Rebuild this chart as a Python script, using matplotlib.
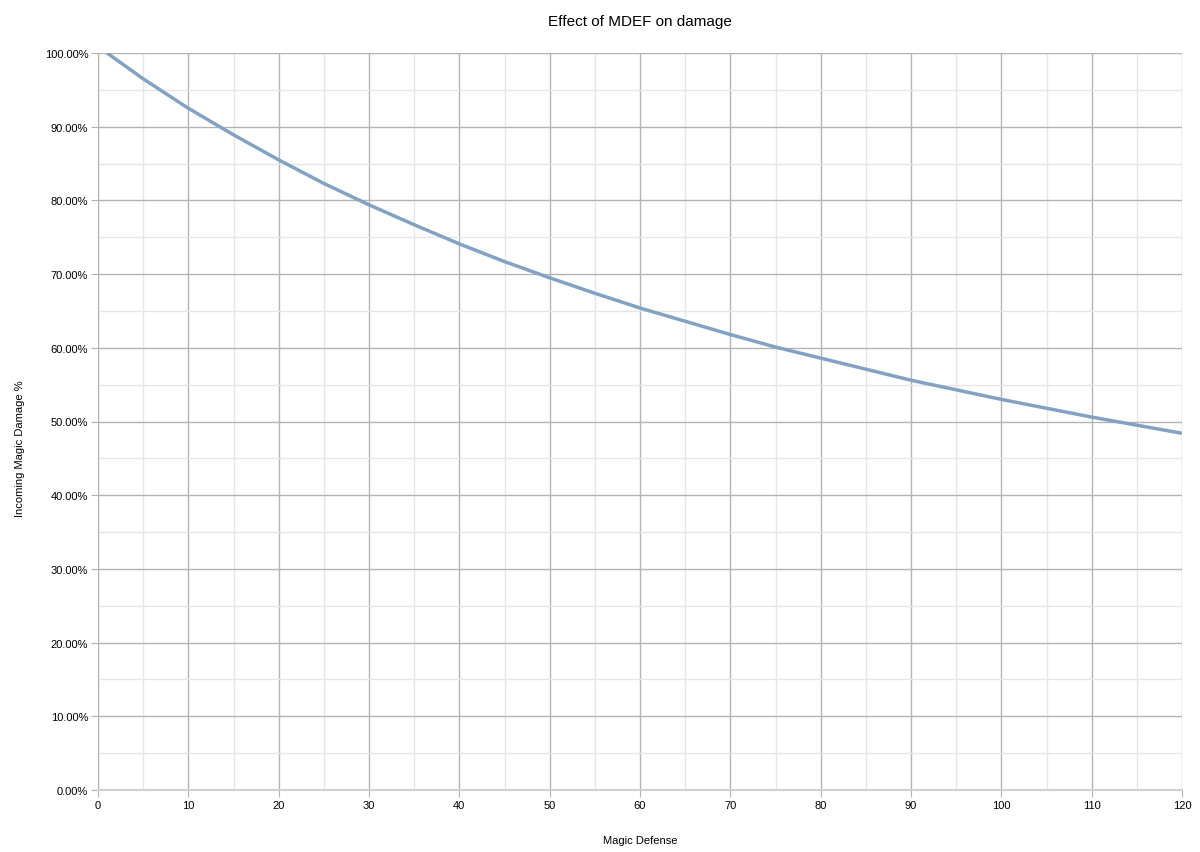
import matplotlib.pyplot as plt
from matplotlib.ticker import MultipleLocator, FuncFormatter

plt.rcParams['font.family'] = ['Liberation Sans', 'DejaVu Sans']

# Valores (defensa mágica vs. % de daño recibido)
mdef = [1, 5, 10, 15, 20, 25, 30, 35, 40, 45, 50, 55, 60, 65, 70, 75, 80,
        85, 90, 95, 100, 105, 110, 115, 120]
dano = [100.0, 96.5, 92.5, 88.9, 85.5, 82.3, 79.4, 76.7, 74.1, 71.7, 69.5,
        67.4, 65.4, 63.6, 61.8, 60.1, 58.6, 57.1, 55.6, 54.3, 53.0, 51.8,
        50.6, 49.5, 48.4]

fig = plt.figure(figsize=(12, 8.53), dpi=100)
ax = fig.add_axes([98/1200, 62/853, 1084/1200, 737/853])

ax.plot(mdef, dano, color='#82a2c4', linewidth=2.5, solid_capstyle='butt', zorder=5)

ax.set_xlim(0, 120)
ax.set_ylim(0, 100)
ax.xaxis.set_major_locator(MultipleLocator(10))
ax.xaxis.set_minor_locator(MultipleLocator(5))
ax.yaxis.set_major_locator(MultipleLocator(10))
ax.yaxis.set_minor_locator(MultipleLocator(5))
ax.yaxis.set_major_formatter(FuncFormatter(lambda v, p: f"{v:.2f}%"))

ax.grid(True, which='major', color='#b3b3b3', linewidth=1)
ax.grid(True, which='minor', color='#e6e6e6', linewidth=1)
ax.set_axisbelow(True)

for s in ['top', 'right']:
    ax.spines[s].set_visible(False)
ax.spines['left'].set_color('#b3b3b3')
ax.spines['bottom'].set_color('#d0d0d0')
ax.spines['bottom'].set_linewidth(1.5)

ax.tick_params(which='major', length=5, color='#b3b3b3', labelsize=8, pad=2)
ax.tick_params(which='minor', length=0)

ax.set_title("Effect of MDEF on damage", fontsize=11, pad=20)
ax.set_xlabel("Magic Defense", fontsize=8)
ax.set_ylabel("Incoming Magic Damage %", fontsize=8)
ax.xaxis.set_label_coords(0.5, -0.061)
ax.yaxis.set_label_coords(-0.0675, 0.464)

fig.savefig("out.png", dpi=100)
